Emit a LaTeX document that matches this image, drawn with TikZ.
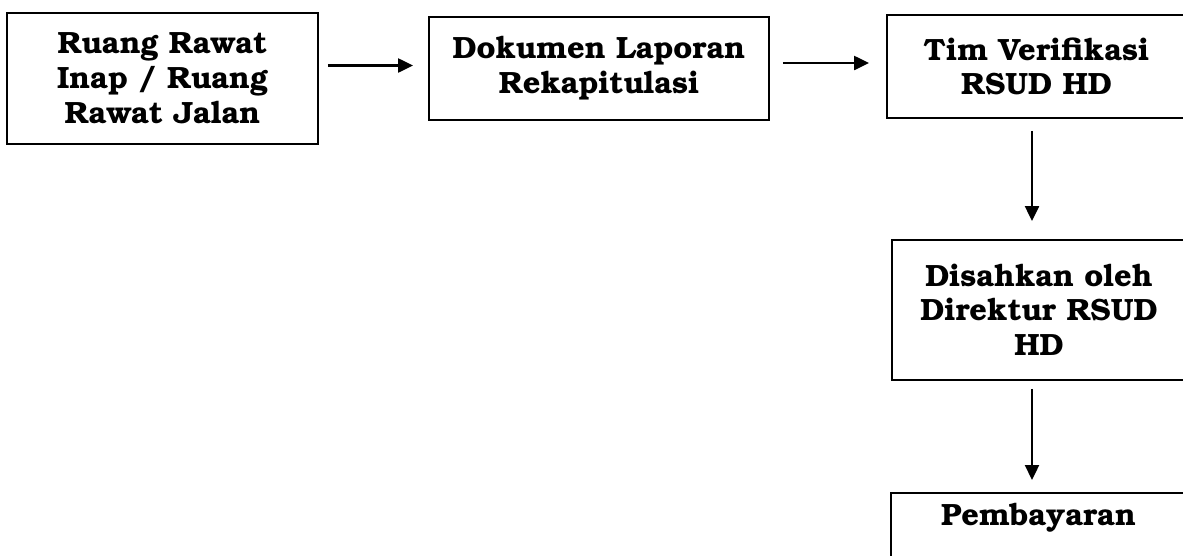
\documentclass[tikz,border=0pt]{standalone}
\usepackage[T1]{fontenc}
\usepackage{bookman}
\usetikzlibrary{arrows.meta,calc}
\tikzset{
  box/.style={draw, line width=1.1pt, align=center, inner sep=0pt,
    font=\fontsize{17.5}{19.8}\selectfont\bfseries},
  arr/.style={line width=1.3pt, -{Triangle[length=0.3cm,width=0.28cm]}}
}

\begin{document}
\begin{tikzpicture}[x=0.02cm, y=-0.02cm]
			%%%%% START %%%%%
			\useasboundingbox (0, 0) rectangle (1183, 555);
			\clip (0, 0) rectangle (1183, 555);
			
			\node[box, minimum width=6.22cm, minimum height=2.62cm] (ruang) at (162.5, 78.5) {Ruang Rawat\\Inap / Ruang\\Rawat Jalan};
			\node[box, minimum width=6.8cm, minimum height=2.06cm] (dokumen) at (599, 68.5) {Dokumen Laporan\\Rekapitulasi};
			\node[box, minimum width=5.98cm, minimum height=2.06cm] (tim) at (1036.5, 66.5) {Tim Verifikasi\\RSUD HD};
			\node[box, minimum width=5.88cm, minimum height=2.8cm] (disahkan) at (1039, 310) {Disahkan oleh\\Direktur RSUD\\HD};
			\node[box, minimum width=5.9cm, anchor=north, text depth=1.6cm, inner ysep=0.22cm] (bayar) at (1038.5, 492) {Pembayaran};
			
			\draw[arr, shorten <=0.18cm, shorten >=0.3cm] ([yshift=0.06cm]ruang.east |- dokumen.west) -- ([yshift=0.06cm]dokumen.west);
			\draw[arr, shorten <=0.26cm, shorten >=0.34cm] ([yshift=0.11cm]dokumen.east) -- ([yshift=0.11cm]dokumen.east -| tim.west);
			\draw[arr, shorten <=0.24cm, shorten >=0.36cm] ([xshift=-0.09cm]tim.south) -- ([xshift=-0.09cm]tim.south |- disahkan.north);
			\draw[arr, shorten <=0.16cm, shorten >=0.24cm] ([xshift=-0.14cm]disahkan.south) -- ([xshift=-0.14cm]disahkan.south |- bayar.north);
			
			%%%%% END %%%%%
		\end{tikzpicture}
\end{document}
